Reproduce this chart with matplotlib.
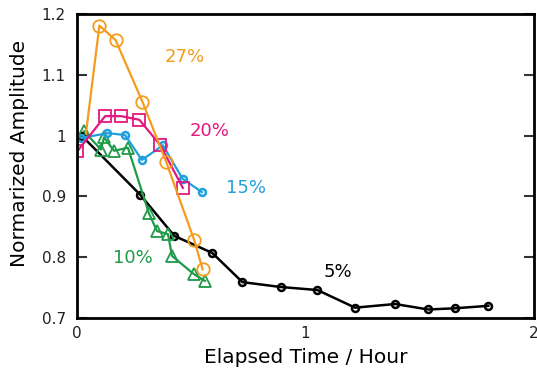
import matplotlib.pyplot as plt
import numpy as np

# Normalized amplitude vs elapsed time, one series per concentration
t_27 = [0.039, 0.098, 0.169, 0.286, 0.391, 0.513, 0.550]
a_27 = [1.003, 1.181, 1.157, 1.056, 0.956, 0.828, 0.780]

t_20 = [0.001, 0.123, 0.193, 0.273, 0.365, 0.463]
a_20 = [0.974, 1.032, 1.032, 1.026, 0.984, 0.914]

t_15 = [0.019, 0.133, 0.210, 0.284, 0.376, 0.462, 0.547]
a_15 = [0.996, 1.004, 1.001, 0.960, 0.984, 0.929, 0.907]

t_10 = [0.031, 0.105, 0.118, 0.162, 0.223, 0.315, 0.350, 0.398, 0.416, 0.512, 0.560]
a_10 = [1.007, 0.977, 0.997, 0.975, 0.980, 0.872, 0.843, 0.838, 0.802, 0.772, 0.761]

t_5 = [0.020, 0.276, 0.426, 0.592, 0.724, 0.891, 1.052, 1.217, 1.392, 1.537, 1.654, 1.800]
a_5 = [1.000, 0.903, 0.835, 0.807, 0.759, 0.751, 0.746, 0.717, 0.723, 0.714, 0.716, 0.720]

c_orange = '#F39C1E'
c_pink = '#E2187F'
c_blue = '#1FA0DC'
c_green = '#1E9A48'
c_black = '#000000'

fig = plt.figure(figsize=(5.37, 3.69), dpi=100)
ax = fig.add_axes([77 / 537, 1 - 318 / 369, (534 - 77) / 537, (318 - 14) / 369])

ax.plot(t_5, a_5, color=c_black, lw=1.8, marker='o', ms=5, mfc='none', mew=1.8)
ax.plot(t_10, a_10, color=c_green, lw=1.6, marker='^', ms=8, mfc='none', mew=1.3)
ax.plot(t_15, a_15, color=c_blue, lw=1.6, marker='o', ms=5, mfc='none', mew=1.8)
ax.plot(t_20, a_20, color=c_pink, lw=1.6, marker='s', ms=8, mfc='none', mew=1.3)
ax.plot(t_27, a_27, color=c_orange, lw=1.6, marker='o', ms=9, mfc='none', mew=1.3,
        markevery=list(range(1, len(t_27))))

ax.text(0.47, 1.13, '27%', color=c_orange, fontsize=13, ha='center', va='center')
ax.text(0.58, 1.008, '20%', color=c_pink, fontsize=13, ha='center', va='center')
ax.text(0.74, 0.913, '15%', color=c_blue, fontsize=13, ha='center', va='center')
ax.text(0.245, 0.798, '10%', color=c_green, fontsize=13, ha='center', va='center')
ax.text(1.14, 0.776, '5%', color=c_black, fontsize=13, ha='center', va='center')

ax.set_xlim(0, 2)
ax.set_ylim(0.7, 1.2)
ax.set_xticks([0, 1, 2])
ax.set_xticklabels(['0', '1', '2'])
ax.set_yticks([0.7, 0.8, 0.9, 1.0, 1.1, 1.2])
ax.set_yticklabels(['0.7', '0.8', '0.9', '1', '1.1', '1.2'])
ax.tick_params(axis='y', direction='in', length=7, width=1.5, right=True,
               labelsize=11, pad=8, color='#333333', labelcolor='#222222')
ax.tick_params(axis='x', length=0, labelsize=11, pad=6, labelcolor='#222222')
for s in ax.spines.values():
    s.set_linewidth(2)

ax.set_xlabel('Elapsed Time / Hour', fontsize=14.5, labelpad=5)
ax.set_ylabel('Normarized Amplitude', fontsize=14.5)
ax.yaxis.set_label_coords(-0.105, 0.54)

fig.savefig('out.png', dpi=100)
